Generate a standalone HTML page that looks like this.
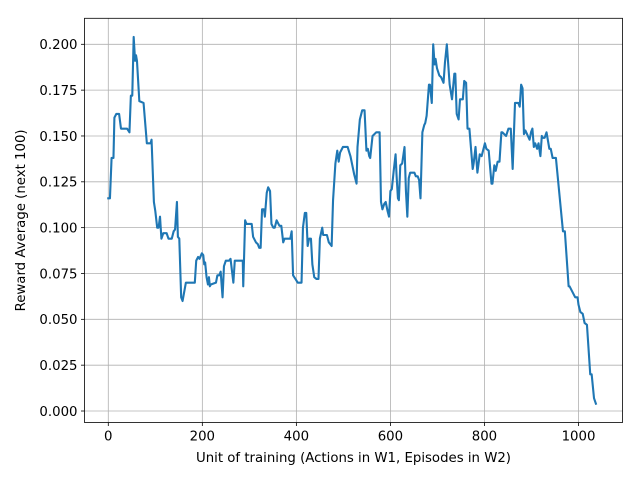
<!DOCTYPE html>
<html><head><meta charset="utf-8"><style>
html,body{margin:0;padding:0;background:#fff;}
svg{display:block;font-family:"DejaVu Sans","Liberation Sans",sans-serif;}
</style></head><body>
<svg id="chart" width="640" height="480" viewBox="0 0 640 480"></svg>
<script>
const xs = [0,3.5,7,11,13,17,23,27,40,45,48,51,54,57,59,61,66,75,82,90,92,97,100,104,107,110,113,117,124,128,135,139,142,146,148,151,155,158,165,184,187,191,194,199,202,204,206,209,212,214,216,218,229,232,236,239,243,246,250,257,260,266,269,286,287,291,294,305,308,314,318,321,324,327,331,333,337,340,344,347,351,354,358,364,368,372,375,387,390,393,398,403,411,414,418,421,424,427,431,434,438,443,447,450,455,457,465,469,475,478,483,487,490,493,499,509,515,519,523,528,530,535,540,545,547,549,552,555,557,562,566,570,577,580,583,587,590,594,597,600,603,607,611,613,616,618,621,625,630,633,636,639,642,651,654,658,661,664,668,672,674,677,682,684,688,691,694,696,699,704,708,713,716,720,723,726,731,736,738,741,745,748,754,757,761,764,768,775,777,781,785,790,794,797,801,804,809,815,817,821,824,828,832,836,838,846,851,856,860,865,872,875,878,881,884,887,896,899,902,905,908,912,915,919,922,924,928,932,938,941,945,952,967,971,979,981,993,998,1000,1004,1009,1013,1018,1025,1028,1033,1037,1040];
const ys = [0.116,0.116,0.138,0.138,0.160,0.162,0.162,0.154,0.154,0.152,0.172,0.172,0.204,0.191,0.194,0.191,0.169,0.168,0.146,0.146,0.148,0.114,0.109,0.100,0.100,0.106,0.094,0.097,0.097,0.094,0.094,0.098,0.099,0.114,0.095,0.094,0.062,0.060,0.070,0.070,0.082,0.084,0.083,0.086,0.085,0.080,0.081,0.073,0.069,0.073,0.068,0.069,0.070,0.074,0.074,0.076,0.062,0.079,0.082,0.082,0.083,0.070,0.082,0.082,0.068,0.104,0.102,0.102,0.095,0.092,0.091,0.089,0.089,0.110,0.110,0.106,0.119,0.122,0.120,0.102,0.100,0.100,0.104,0.101,0.101,0.092,0.094,0.094,0.098,0.074,0.072,0.070,0.070,0.100,0.108,0.108,0.090,0.094,0.094,0.080,0.073,0.072,0.072,0.094,0.100,0.096,0.096,0.092,0.090,0.115,0.135,0.142,0.136,0.141,0.144,0.144,0.139,0.134,0.129,0.124,0.144,0.159,0.164,0.164,0.153,0.142,0.143,0.139,0.138,0.150,0.151,0.152,0.152,0.114,0.110,0.113,0.114,0.109,0.106,0.120,0.121,0.131,0.140,0.129,0.116,0.115,0.134,0.135,0.144,0.120,0.106,0.127,0.130,0.130,0.128,0.128,0.126,0.116,0.152,0.156,0.157,0.161,0.178,0.178,0.168,0.200,0.189,0.192,0.187,0.183,0.182,0.179,0.190,0.200,0.189,0.178,0.170,0.184,0.184,0.162,0.159,0.170,0.170,0.180,0.179,0.154,0.154,0.132,0.135,0.144,0.130,0.140,0.139,0.142,0.146,0.143,0.142,0.124,0.124,0.134,0.131,0.136,0.136,0.152,0.152,0.150,0.154,0.154,0.132,0.168,0.168,0.166,0.178,0.176,0.151,0.153,0.148,0.152,0.154,0.144,0.146,0.143,0.146,0.139,0.150,0.149,0.149,0.152,0.143,0.143,0.138,0.138,0.098,0.098,0.068,0.068,0.062,0.062,0.058,0.054,0.053,0.048,0.047,0.020,0.020,0.007,0.004];
const xTicks = [0,200,400,600,800,1000];
const yTicks = [0,0.025,0.05,0.075,0.1,0.125,0.15,0.175,0.2];
const yTickLabels = ["0.000","0.025","0.050","0.075","0.100","0.125","0.150","0.175","0.200"];

const L=84.5,R=622.5,T=18.3,B=422.5;
const xMin=-50.6,xMax=1093.6,yMin=-0.00627,yMax=0.21418;
const sx=v=>L+(v-xMin)/(xMax-xMin)*(R-L);
const sy=v=>B-(v-yMin)/(yMax-yMin)*(B-T);
const NS="http://www.w3.org/2000/svg";
const svg=document.getElementById('chart');
function mk(tag,attrs,parent){const e=document.createElementNS(NS,tag);for(const k in attrs)e.setAttribute(k,attrs[k]);(parent||svg).appendChild(e);return e;}

const grid=mk('g',{});


xTicks.forEach(v=>{const l=mk('line',{x1:sx(v),x2:sx(v),y1:T,y2:B,stroke:'#b0b0b0','stroke-width':0.8},grid);

});
yTicks.forEach(v=>{const l=mk('line',{x1:L,x2:R,y1:sy(v),y2:sy(v),stroke:'#b0b0b0','stroke-width':0.8},grid);

});

const pts=xs.map((x,i)=>sx(x).toFixed(2)+','+sy(ys[i]).toFixed(2)).join(' ');
const line=mk('polyline',{points:pts,fill:'none',stroke:'#1f77b4','stroke-width':2.1,'stroke-linejoin':'round','stroke-linecap':'square'});



const frame=mk('rect',{x:L,y:T,width:R-L,height:B-T,fill:'none',stroke:'#000','stroke-width':0.8});



xTicks.forEach(v=>{
  const t=mk('line',{x1:sx(v),x2:sx(v),y1:B,y2:B+3.5,stroke:'#000','stroke-width':0.8});
  
  
  const tx=mk('text',{x:sx(v),y:B+18,'text-anchor':'middle','font-size':'13.3px',fill:'#000'});
  tx.textContent=String(v);
  
  
});
yTicks.forEach((v,i)=>{
  const t=mk('line',{x1:L-3.5,x2:L,y1:sy(v),y2:sy(v),stroke:'#000','stroke-width':0.8});
  
  
  const tx=mk('text',{x:L-7,y:sy(v)+4.8,'text-anchor':'end','font-size':'13.3px',fill:'#000'});
  tx.textContent=yTickLabels[i];
  
  
});
const xl=mk('text',{x:(L+R)/2,y:462,'text-anchor':'middle','font-size':'13.3px',fill:'#000'});
xl.textContent='Unit of training (Actions in W1, Episodes in W2)';


const yl=mk('text',{x:0,y:0,'text-anchor':'middle','font-size':'13.3px',fill:'#000',transform:`translate(25,${(T+B)/2}) rotate(-90)`});
yl.textContent='Reward Average (next 100)';


</script>
</body></html>
